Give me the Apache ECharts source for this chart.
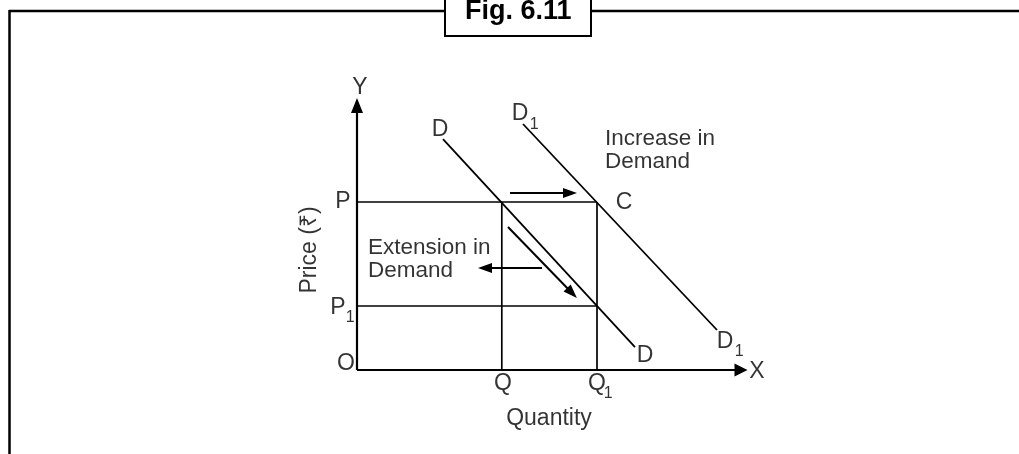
<!DOCTYPE html>
<html><head><meta charset="utf-8">
<script src="https://cdn.jsdelivr.net/npm/echarts@6/dist/echarts.min.js"></script>
<style>html,body{margin:0;padding:0;background:#fff}#c{width:1019px;height:454px}</style>
</head><body><div id="c"></div>
<script>
// ---- data (in chart units: origin O = [0,0]) ----
const figureTitle = 'Fig. 6.11';
const priceP = 4.2, priceP1 = 1.6;
const qtyQ = 3.62, qtyQ1 = 6.0;
const curveD = [[2.15, 5.77], [6.95, 0.57]];
const curveD1 = [[4.15, 6.15], [9.0, 1.0]];
const axisYLine = [[0, 0], [0, 6.61]];
const axisXLine = [[0, 0], [9.6, 0]];
const arrowIncrease = [[3.825, 4.425], [5.325, 4.425]];
const arrowExtensionLeft = [[4.625, 2.55], [3.2, 2.55]];
const arrowAlongD = [[3.775, 3.575], [5.375, 1.925]];

const letterTexts = ['Y', 'X', 'O', 'P', 'P', 'Q', 'Q', 'C', 'D', 'D', 'D', 'D'];
const letterAt = [[0.075, 7.05], [10.0, -0.05], [-0.275, 0.15], [-0.35, 4.2], [-0.475, 1.55],
  [3.65, -0.35], [6.0, -0.35], [6.675, 4.175], [2.075, 6.0], [4.075, 6.4], [7.2, 0.35], [9.2, 0.7]];
const subscriptTexts = ['1', '1', '1', '1'];
const subscriptAt = [[-0.17, 1.3], [6.28, -0.6], [4.43, 6.125], [9.555, 0.45]];
const noteTexts = ['Increase in\nDemand', 'Extension in\nDemand'];
const noteAt = [[6.2, 5.49], [0.275, 2.76]];
const xAxisName = 'Quantity', xAxisNameAt = [4.8, -1.22];
const yAxisName = 'Price (₹)', yAxisNameAt = [-1.175, 3.0];

// ---- chart ----
const FONT = "'Liberation Sans', Arial, Helvetica, sans-serif";
const BLACK = '#000';
const chart = echarts.init(document.getElementById('c'), null, {renderer: 'canvas'});

function segSeries(pts, w) {
  return {type: 'line', data: pts, symbol: 'none', silent: true, animation: false,
    lineStyle: {color: BLACK, width: w}, z: 3};
}
function arrowSeries(segs, size, w) {
  return {type: 'line', data: [], silent: true, animation: false,
    markLine: {silent: true, animation: false, symbol: ['none', 'triangle'], symbolSize: size,
      label: {show: false}, lineStyle: {color: BLACK, width: w, type: 'solid'},
      emphasis: {disabled: true},
      data: segs.map(s => [{coord: s[0]}, {coord: s[1]}])}};
}
function textSeries(texts, at, labelOpt) {
  return {type: 'scatter', symbolSize: 0, silent: true, animation: false, z: 5,
    data: texts.map((t, i) => ({name: t, value: at[i]})),
    label: Object.assign({show: true, formatter: p => p.name, color: BLACK, fontFamily: FONT,
      position: [0, 0], align: 'center', verticalAlign: 'middle'}, labelOpt)};
}

const guideLines = [
  [[0, priceP], [qtyQ1, priceP]],
  [[0, priceP1], [qtyQ1, priceP1]],
  [[qtyQ, 0], [qtyQ, priceP]],
  [[qtyQ1, 0], [qtyQ1, priceP]]
];

chart.setOption({
  animation: false,
  title: {text: figureTitle, left: 445, top: -9, padding: [6, 20, 9, 20],
    borderColor: BLACK, borderWidth: 2, backgroundColor: '#fff',
    textStyle: {fontFamily: FONT, fontWeight: 'bold', fontSize: 27, lineHeight: 30, color: BLACK}},
  grid: {left: 277, right: 182, top: 50, bottom: 4},
  xAxis: {type: 'value', min: -2, max: 12, show: false},
  yAxis: {type: 'value', min: -2, max: 8, show: false},
  graphic: [
    {type: 'line', shape: {x1: 9, y1: 11, x2: 446, y2: 11}, style: {stroke: BLACK, lineWidth: 2.5}},
    {type: 'line', shape: {x1: 592, y1: 11, x2: 1019, y2: 11}, style: {stroke: BLACK, lineWidth: 2.5}},
    {type: 'line', shape: {x1: 9.5, y1: 10, x2: 9.5, y2: 454}, style: {stroke: BLACK, lineWidth: 2.5}}
  ],
  series: [
    segSeries(curveD, 1.8),
    segSeries(curveD1, 1.8),
    ...guideLines.map(g => segSeries(g, 1.7)),
    arrowSeries([axisYLine], [12, 15], 2.2),
    arrowSeries([axisXLine], [13, 13], 2.2),
    arrowSeries([arrowIncrease, arrowExtensionLeft, arrowAlongD], [10, 14], 2),
    textSeries(letterTexts, letterAt, {fontSize: 23}),
    textSeries(subscriptTexts, subscriptAt, {fontSize: 16}),
    textSeries(noteTexts, noteAt, {fontSize: 22.5, align: 'left', lineHeight: 23}),
    textSeries([xAxisName], [xAxisNameAt], {fontSize: 23}),
    textSeries([yAxisName], [yAxisNameAt], {fontSize: 23, rotate: 90})
  ]
});
</script></body></html>
